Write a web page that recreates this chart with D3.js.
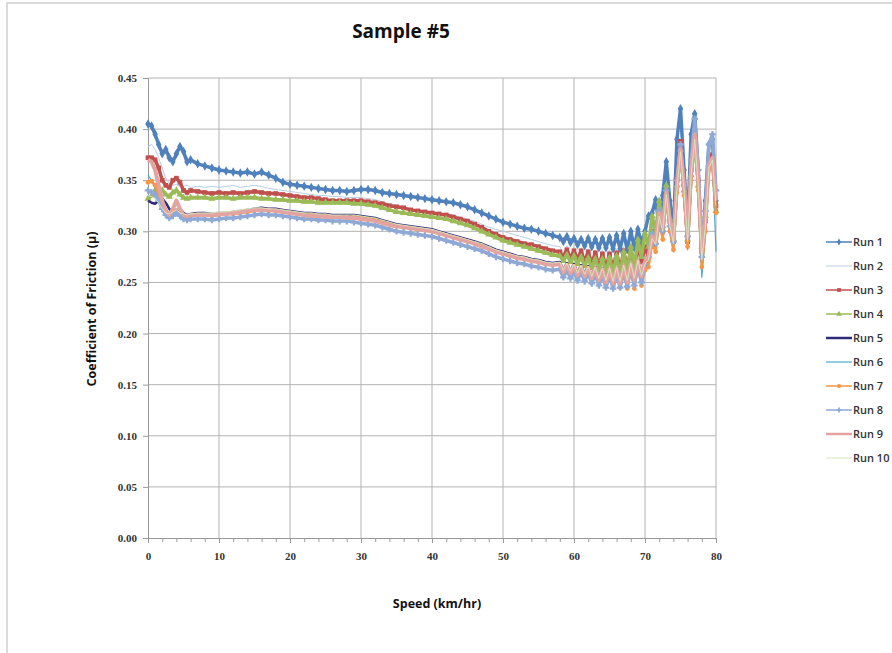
<!DOCTYPE html>
<html>
<head>
<meta charset="utf-8">
<script src="https://cdn.jsdelivr.net/npm/d3@7"></script>
<style>
body { margin: 0; background: #fff; }
text { font-family: "Open Sans", "Noto Sans", sans-serif; }
.tick-label { font-family: "Liberation Serif", serif; font-weight: bold; font-size: 11px; fill: #333; }
</style>
</head>
<body>
<div id="chart"></div>
<script>
// speed samples (km/hr)
var speeds = [0,0.5,1,1.5,2,2.5,3,3.5,4,4.5,5,5.5,6,
  7,8,9,10,11,12,13,14,15,16,17,18,19,20,21,22,23,24,25,26,27,28,29,30,31,32,33,34,35,36,37,38,39,40,41,42,43,44,45,46,47,48,49,50,51,52,53,54,55,56,57,
  58,58.5,59,59.5,60,60.5,61,61.5,62,62.5,63,63.5,64,64.5,65,65.5,66,66.5,67,67.5,68,68.5,69,69.5,70,
  70.5,71,71.5,72,72.5,73,73.5,74,74.5,75,75.5,76,76.5,77,77.5,78,78.5,79,79.5,80];

var run1 = [0.405,0.403,0.395,0.385,0.376,0.38,0.372,0.368,0.376,0.383,0.378,0.368,0.37,
  0.366,0.364,0.362,0.360,0.359,0.358,0.357,0.358,0.356,0.358,0.355,0.352,0.348,0.346,0.345,0.344,0.343,0.342,0.341,0.340,0.340,0.339,0.340,0.341,0.341,0.340,0.338,0.337,0.336,0.335,0.334,0.333,0.332,0.331,0.330,0.329,0.328,0.326,0.324,0.321,0.318,0.315,0.312,0.309,0.307,0.305,0.303,0.302,0.300,0.298,0.296,
  0.294,0.290,0.295,0.289,0.293,0.287,0.292,0.286,0.293,0.285,0.292,0.284,0.293,0.284,0.294,0.283,0.296,0.283,0.298,0.282,0.300,0.284,0.302,0.288,0.300,
  0.315,0.318,0.331,0.305,0.335,0.368,0.330,0.300,0.390,0.420,0.360,0.305,0.395,0.415,0.360,0.275,0.330,0.385,0.390,0.330];

var run2 = [0.383,0.385,0.380,0.372,0.362,0.352,0.347,0.345,0.346,0.344,0.344,0.345,0.343,
  0.344,0.343,0.344,0.343,0.344,0.345,0.343,0.344,0.345,0.344,0.342,0.341,0.340,0.339,0.338,0.337,0.336,0.335,0.335,0.334,0.334,0.333,0.333,0.333,0.332,0.331,0.329,0.327,0.325,0.323,0.322,0.321,0.320,0.319,0.318,0.317,0.316,0.314,0.312,0.310,0.307,0.304,0.302,0.300,0.298,0.296,0.294,0.292,0.290,0.288,0.286,
  0.285,0.279,0.286,0.277,0.285,0.276,0.284,0.274,0.283,0.272,0.282,0.270,0.282,0.268,0.282,0.267,0.283,0.266,0.285,0.267,0.287,0.270,0.290,0.274,0.288,
  0.282,0.305,0.295,0.322,0.303,0.345,0.315,0.292,0.355,0.392,0.350,0.292,0.365,0.400,0.352,0.280,0.312,0.372,0.378,0.326];

var run3 = [0.372,0.372,0.370,0.362,0.350,0.345,0.343,0.350,0.352,0.348,0.340,0.338,0.340,
  0.339,0.338,0.337,0.338,0.337,0.338,0.337,0.338,0.339,0.338,0.337,0.337,0.336,0.335,0.334,0.333,0.333,0.332,0.331,0.330,0.330,0.330,0.330,0.330,0.329,0.328,0.327,0.325,0.324,0.323,0.321,0.320,0.319,0.318,0.317,0.316,0.314,0.312,0.310,0.307,0.304,0.300,0.297,0.294,0.292,0.290,0.288,0.287,0.285,0.283,0.281,
  0.280,0.275,0.282,0.273,0.281,0.272,0.281,0.270,0.280,0.268,0.279,0.266,0.278,0.265,0.278,0.263,0.279,0.262,0.281,0.263,0.283,0.265,0.286,0.270,0.285,
  0.275,0.300,0.290,0.320,0.300,0.340,0.310,0.290,0.350,0.388,0.345,0.290,0.360,0.395,0.350,0.280,0.310,0.370,0.375,0.325];

var run4 = [0.332,0.335,0.340,0.342,0.340,0.336,0.334,0.338,0.340,0.336,0.333,0.332,0.333,
  0.333,0.333,0.332,0.333,0.333,0.332,0.333,0.333,0.333,0.332,0.332,0.331,0.331,0.330,0.330,0.329,0.329,0.328,0.328,0.328,0.328,0.328,0.327,0.327,0.326,0.325,0.323,0.321,0.319,0.318,0.317,0.316,0.315,0.314,0.313,0.312,0.310,0.308,0.306,0.303,0.300,0.297,0.294,0.291,0.289,0.287,0.285,0.283,0.281,0.279,0.277,
  0.276,0.271,0.277,0.270,0.276,0.268,0.275,0.266,0.274,0.264,0.273,0.262,0.273,0.260,0.274,0.259,0.276,0.258,0.280,0.260,0.285,0.265,0.292,0.275,0.298,
  0.285,0.315,0.300,0.330,0.305,0.345,0.312,0.292,0.345,0.380,0.340,0.292,0.355,0.390,0.345,0.285,0.315,0.365,0.370,0.320];

var run5 = [0.330,0.328,0.327,0.330,0.332,0.328,0.322,0.318,0.320,0.322,0.318,0.316,0.317,
  0.318,0.318,0.317,0.318,0.318,0.319,0.320,0.321,0.322,0.323,0.322,0.322,0.321,0.320,0.319,0.318,0.318,0.317,0.317,0.316,0.316,0.316,0.316,0.315,0.314,0.313,0.311,0.309,0.307,0.306,0.305,0.304,0.303,0.302,0.300,0.298,0.296,0.294,0.292,0.290,0.288,0.285,0.282,0.280,0.278,0.276,0.275,0.273,0.272,0.270,0.269,
  0.270,0.262,0.269,0.261,0.268,0.259,0.267,0.258,0.266,0.256,0.265,0.254,0.264,0.252,0.263,0.250,0.263,0.249,0.264,0.248,0.266,0.249,0.270,0.252,0.265,
  0.270,0.292,0.285,0.315,0.298,0.338,0.305,0.288,0.345,0.382,0.340,0.288,0.355,0.392,0.345,0.270,0.305,0.365,0.372,0.320];

var run6 = [0.355,0.350,0.342,0.330,0.322,0.318,0.317,0.320,0.322,0.318,0.316,0.315,0.316,
  0.317,0.317,0.316,0.317,0.318,0.318,0.319,0.320,0.321,0.322,0.321,0.321,0.320,0.319,0.318,0.317,0.317,0.316,0.316,0.315,0.315,0.315,0.315,0.314,0.313,0.312,0.310,0.308,0.306,0.305,0.304,0.303,0.302,0.301,0.299,0.297,0.295,0.293,0.291,0.289,0.287,0.284,0.281,0.279,0.277,0.275,0.274,0.272,0.271,0.269,0.268,
  0.269,0.261,0.268,0.260,0.267,0.258,0.266,0.257,0.265,0.255,0.264,0.253,0.263,0.251,0.262,0.249,0.262,0.248,0.263,0.247,0.265,0.248,0.268,0.250,0.262,
  0.268,0.290,0.282,0.312,0.295,0.335,0.300,0.280,0.340,0.378,0.335,0.282,0.350,0.385,0.335,0.255,0.295,0.360,0.370,0.280];

var run7 = [0.348,0.349,0.345,0.335,0.325,0.320,0.316,0.318,0.320,0.317,0.315,0.314,0.315,
  0.316,0.316,0.315,0.316,0.317,0.317,0.318,0.319,0.320,0.321,0.320,0.320,0.319,0.318,0.317,0.316,0.316,0.315,0.315,0.314,0.314,0.314,0.314,0.313,0.312,0.311,0.309,0.307,0.305,0.304,0.303,0.302,0.301,0.300,0.298,0.296,0.294,0.292,0.290,0.288,0.286,0.283,0.280,0.278,0.276,0.274,0.273,0.271,0.270,0.268,0.267,
  0.268,0.258,0.267,0.257,0.266,0.255,0.265,0.254,0.264,0.252,0.263,0.250,0.262,0.248,0.261,0.246,0.261,0.245,0.262,0.244,0.264,0.244,0.267,0.247,0.262,
  0.265,0.288,0.280,0.310,0.292,0.332,0.300,0.282,0.338,0.375,0.335,0.285,0.350,0.388,0.340,0.265,0.300,0.360,0.368,0.318];

var run8 = [0.340,0.338,0.336,0.330,0.322,0.316,0.313,0.315,0.318,0.315,0.312,0.311,0.312,
  0.312,0.312,0.311,0.312,0.313,0.313,0.314,0.315,0.316,0.317,0.316,0.316,0.315,0.314,0.313,0.312,0.312,0.311,0.311,0.310,0.310,0.310,0.309,0.308,0.307,0.306,0.304,0.302,0.300,0.299,0.298,0.297,0.296,0.295,0.293,0.291,0.289,0.287,0.285,0.283,0.281,0.278,0.275,0.273,0.271,0.269,0.268,0.266,0.265,0.263,0.262,
  0.263,0.255,0.262,0.254,0.261,0.252,0.260,0.251,0.259,0.249,0.258,0.247,0.257,0.245,0.257,0.244,0.258,0.245,0.260,0.246,0.262,0.247,0.266,0.250,0.268,
  0.275,0.298,0.288,0.320,0.300,0.340,0.305,0.290,0.350,0.385,0.345,0.295,0.370,0.410,0.360,0.275,0.320,0.385,0.395,0.340];

var run9 = [0.370,0.368,0.360,0.345,0.330,0.320,0.316,0.322,0.330,0.322,0.316,0.315,0.316,
  0.316,0.316,0.316,0.317,0.317,0.318,0.319,0.320,0.321,0.321,0.321,0.320,0.319,0.318,0.317,0.316,0.315,0.315,0.314,0.314,0.314,0.313,0.313,0.312,0.311,0.310,0.308,0.306,0.305,0.304,0.303,0.302,0.301,0.300,0.298,0.296,0.294,0.292,0.290,0.288,0.285,0.283,0.280,0.278,0.276,0.274,0.273,0.271,0.270,0.268,0.267,
  0.268,0.260,0.267,0.259,0.266,0.257,0.265,0.256,0.264,0.254,0.264,0.252,0.263,0.250,0.263,0.249,0.264,0.249,0.266,0.250,0.268,0.252,0.271,0.256,0.270,
  0.275,0.295,0.290,0.318,0.305,0.338,0.310,0.292,0.345,0.380,0.345,0.295,0.360,0.395,0.350,0.280,0.310,0.365,0.372,0.330];

var run10 = [0.335,0.334,0.332,0.328,0.322,0.318,0.317,0.319,0.321,0.318,0.317,0.316,0.317,
  0.318,0.318,0.318,0.319,0.319,0.320,0.321,0.322,0.323,0.323,0.322,0.322,0.321,0.320,0.319,0.318,0.318,0.317,0.317,0.316,0.316,0.316,0.316,0.315,0.314,0.313,0.311,0.309,0.307,0.306,0.305,0.304,0.303,0.302,0.300,0.298,0.296,0.294,0.292,0.290,0.288,0.285,0.282,0.280,0.278,0.276,0.275,0.273,0.272,0.270,0.269,
  0.270,0.262,0.269,0.261,0.268,0.259,0.267,0.258,0.266,0.256,0.265,0.254,0.264,0.252,0.264,0.251,0.265,0.251,0.267,0.252,0.269,0.254,0.272,0.257,0.268,
  0.272,0.293,0.287,0.315,0.300,0.336,0.306,0.288,0.342,0.378,0.340,0.290,0.355,0.390,0.345,0.272,0.305,0.362,0.370,0.325];

var runNames = ['Run 1','Run 2','Run 3','Run 4','Run 5','Run 6','Run 7','Run 8','Run 9','Run 10'];
var runValues = [run1, run2, run3, run4, run5, run6, run7, run8, run9, run10];
var xTicks = [0,10,20,30,40,50,60,70,80];
var yTicks = [0,0.05,0.10,0.15,0.20,0.25,0.30,0.35,0.40,0.45];

// look of each series (Excel 2007 style)
var runStyle = [
  {color:'#4F81BD', width:3.5, lw:1.5, marker:d3.symbolDiamond, msize:26},
  {color:'#B9CDE5', width:1, lw:1, marker:null},
  {color:'#C0504D', width:3.5, lw:1.5, marker:d3.symbolSquare, msize:22},
  {color:'#9BBB59', width:3.5, lw:1.5, marker:d3.symbolTriangle, msize:22},
  {color:'#2E2A7C', width:2.5, lw:2.5, marker:null},
  {color:'#4BACC6', width:1.2, lw:1.2, marker:null},
  {color:'#F79646', width:2.5, lw:1.5, marker:d3.symbolCircle, msize:18},
  {color:'#8EA9D6', width:3.5, lw:1.5, marker:d3.symbolCross, msize:24},
  {color:'#E3A3A1', width:4, lw:2.5, marker:null},
  {color:'#D7E4BD', width:1, lw:1, marker:null}
];

var W = 892, H = 653;
var margin = {top: 78, left: 148};
var plotW = 568, plotH = 460;

var svg = d3.select('#chart').append('svg')
  .attr('width', W).attr('height', H);

// chart area border
svg.append('rect')
  .attr('x', 7).attr('y', 3)
  .attr('width', 900).attr('height', 700)
  .attr('fill', '#fff')
  .attr('stroke', '#d0d0d0')
  .attr('stroke-width', 1.5);

svg.append('text')
  .attr('x', 401).attr('y', 38)
  .attr('text-anchor', 'middle')
  .style('font-size', '19px')
  .style('font-weight', 'bold')
  .style('fill', '#111')
  .text('Sample #5');

var g = svg.append('g')
  .attr('transform', 'translate(' + margin.left + ',' + margin.top + ')');

var x = d3.scaleLinear().domain([0, 80]).range([0, plotW]);
var y = d3.scaleLinear().domain([0, 0.45]).range([plotH, 0]);

// gridlines
g.append('g')
  .selectAll('line.hgrid')
  .data(yTicks.slice(1))
  .enter().append('line')
  .attr('x1', 0).attr('x2', plotW)
  .attr('y1', function(d){ return y(d); })
  .attr('y2', function(d){ return y(d); })
  .attr('stroke', '#b3b3b3').attr('stroke-width', 1);

g.append('g')
  .selectAll('line.vgrid')
  .data(xTicks.slice(1))
  .enter().append('line')
  .attr('y1', 0).attr('y2', plotH)
  .attr('x1', function(d){ return x(d); })
  .attr('x2', function(d){ return x(d); })
  .attr('stroke', '#b3b3b3').attr('stroke-width', 1);

// axes
var yAxis = g.append('g')
  .call(d3.axisLeft(y).tickValues(yTicks).tickSize(5).tickFormat(d3.format('.2f')));
yAxis.select('.domain').attr('stroke', '#999');
yAxis.selectAll('.tick line').attr('stroke', '#999');
yAxis.selectAll('.tick text').attr('class', 'tick-label').attr('x', -11);

var minorTicks = d3.range(0, 81, 2);
var xMinor = g.append('g')
  .attr('transform', 'translate(0,' + plotH + ')')
  .call(d3.axisBottom(x).tickValues(minorTicks).tickSize(4).tickFormat(''));
xMinor.select('.domain').remove();
xMinor.selectAll('.tick line').attr('stroke', '#999');

var xAxis = g.append('g')
  .attr('transform', 'translate(0,' + plotH + ')')
  .call(d3.axisBottom(x).tickValues(xTicks).tickSize(5).tickFormat(d3.format('d')));
xAxis.select('.domain').attr('stroke', '#999');
xAxis.selectAll('.tick line').attr('stroke', '#999');
xAxis.selectAll('.tick text').attr('class', 'tick-label').attr('y', 14);

// series
var line = d3.line()
  .defined(function(d){ return d[1] != null; })
  .x(function(d){ return x(d[0]); })
  .y(function(d){ return y(d[1]); });

runValues.forEach(function(vals, k){
  var pts = speeds.map(function(s, i){ return [s, vals[i]]; });
  var st = runStyle[k];
  var sg = g.append('g');
  sg.append('path')
    .datum(pts)
    .attr('fill', 'none')
    .attr('stroke', st.color)
    .attr('stroke-width', st.width)
    .attr('stroke-linejoin', 'round')
    .attr('d', line);
  if(st.marker){
    sg.selectAll('path.mk')
      .data(pts)
      .enter().append('path')
      .attr('class', 'mk')
      .attr('d', d3.symbol().type(st.marker).size(st.msize))
      .attr('transform', function(d){ return 'translate(' + x(d[0]) + ',' + y(d[1]) + ')'; })
      .attr('fill', st.color);
  }
});

// axis titles
svg.append('text')
  .attr('transform', 'translate(96,' + 309 + ') rotate(-90)')
  .attr('text-anchor', 'middle')
  .style('font-size', '12.5px')
  .style('font-weight', 'bold')
  .style('fill', '#111')
  .text('Coefficient of Friction (µ)');

svg.append('text')
  .attr('x', 437).attr('y', 608)
  .attr('text-anchor', 'middle')
  .style('font-size', '12.5px')
  .style('font-weight', 'bold')
  .style('fill', '#111')
  .text('Speed (km/hr)');

// legend
var legend = svg.append('g').attr('transform', 'translate(826,242)');
runNames.forEach(function(name, k){
  var st = runStyle[k];
  var lg = legend.append('g').attr('transform', 'translate(0,' + (k * 24) + ')');
  lg.append('line')
    .attr('x1', 0).attr('x2', 26)
    .attr('stroke', st.color)
    .attr('stroke-width', st.lw);
  if(st.marker){
    lg.append('path')
      .attr('d', d3.symbol().type(st.marker).size(14))
      .attr('transform', 'translate(13,0)')
      .attr('fill', st.color);
  }
  lg.append('text')
    .attr('x', 27).attr('y', 4)
    .style('font-size', '11px')
    .style('font-weight', '600')
    .style('fill', '#333')
    .text(name);
});
</script>
</body>
</html>
